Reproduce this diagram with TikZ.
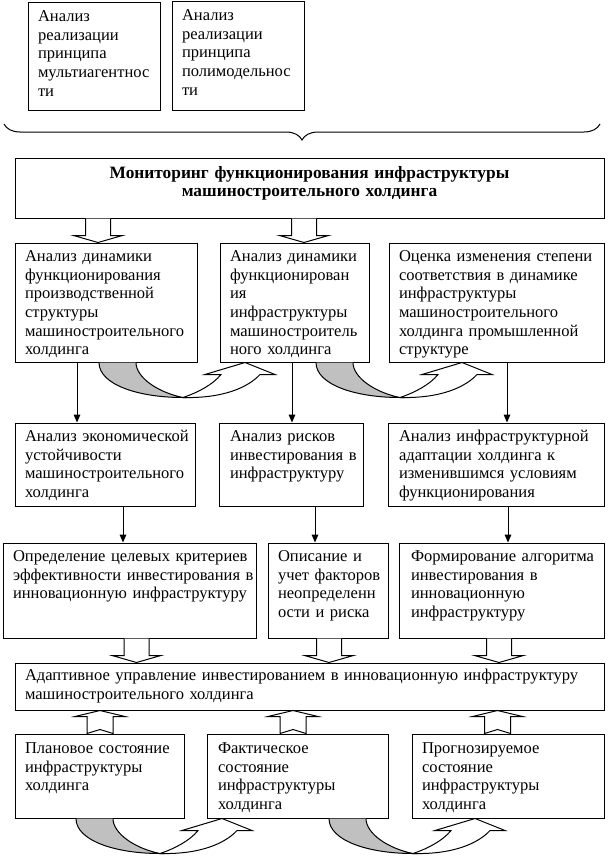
\documentclass[tikz,border=0pt]{standalone}
\usepackage{fontspec}
\setmainfont{Liberation Serif}
\definecolor{shadegray}{RGB}{192,192,192}
\usetikzlibrary{positioning,calc,fit,arrows.meta,decorations.pathreplacing}
\newdimen\upx \upx=0.75pt
\newcommand{\fs}{\fontsize{12.4}{14}\selectfont}
\newcommand{\fsb}{\fontsize{13}{13.6}\selectfont\bfseries}
\tikzset{
  blk/.style={draw, inner sep=0pt},
  txt/.style={anchor=base west, align=left, inner sep=0pt, font=\fs, text width=#1},
  hol/.style={draw, fill=white},
  arr/.style={-{Triangle[width=5pt,length=6pt]}},
}
\newcommand{\blockdown}[3]{%
  \draw[hol] ($(#2 -| #1,0)+(-12.5,0)$) -- ($(#3 -| #1,0)+(-12.5,-7)$)
    -- ($(#3 -| #1,0)+(-24.5,-7)$) -- (#3 -| #1,0)
    -- ($(#3 -| #1,0)+(24.5,-7)$) -- ($(#3 -| #1,0)+(12.5,-7)$)
    -- ($(#2 -| #1,0)+(12.5,0)$);}
\newcommand{\blockup}[3]{%
  \draw[hol] ($(#2 -| #1,0)+(-13,0)$) -- ($(#3 -| #1,0)+(-13,6)$)
    -- ($(#3 -| #1,0)+(-25,6)$) -- (#3 -| #1,0)
    -- ($(#3 -| #1,0)+(25,6)$) -- ($(#3 -| #1,0)+(13,6)$)
    -- ($(#2 -| #1,0)+(13,0)$) -- ($(#2 -| #1,0)+(0,-4)$) -- cycle;}
\newcommand{\turnarrow}[1]{%
  \begin{scope}[shift={(#1)}]
    \fill[shadegray] (-84,0) .. controls (-84,22) and (-45,35) .. (0,35)
      .. controls (-25,30) and (-47,15) .. (-47,0) -- cycle;
    \draw (-84,0) .. controls (-84,22) and (-45,35) .. (0,35)
      .. controls (-25,30) and (-47,15) .. (-47,0);
    \draw[hol] (0,35) .. controls (15,30) and (30,22) .. (38,12) -- (22,12) -- (62,0)
      -- (92,12) -- (77,12) .. controls (65,25) and (40,36) .. (0,35) -- cycle;
  \end{scope}}

\begin{document}
\begin{tikzpicture}[x=0.75pt, y=-0.75pt, line width=0.75pt]
\useasboundingbox (0,0) rectangle (615,867);

\node[blk, fit={(28,3) (160,110)}] (multi) {};
\node[txt=130\upx] (multi-t) at ([shift={(10,19)}]multi.north west) {Анализ\\реализации\\принципа\\мультиагентнос\\ти};
\node[blk, fit={(172,2) (304,110)}] (poly) {};
\node[txt=130\upx] (poly-t) at ([shift={(10,19)}]poly.north west) {Анализ\\реализации\\принципа\\полимодельнос\\ти};

\coordinate (brl) at (4,124);
\coordinate (brr) at (600,124);
\draw[decorate, decoration={brace, mirror, amplitude=12pt}] (brl) -- (brr);

\node[blk, fit={(15,158) (604,218)}] (monit) {};
\node[txt=580\upx, anchor=base, align=center, font=\fsb] (monit-t) at ([shift={(0,21)}]monit.north) {Мониторинг функционирования инфраструктуры\\машиностроительного холдинга};

\node[blk, fit={(15,243) (197,362)}] (prod) {};
\node[txt=180\upx] (prod-t) at ([shift={(10,19)}]prod.north west) {Анализ динамики\\функционирования\\производственной\\структуры\\машиностроительного\\холдинга};
\node[blk, fit={(220,243) (369,362)}] (infra) {};
\node[txt=147\upx] (infra-t) at ([shift={(10,19)}]infra.north west) {Анализ динамики\\функционирован\\ия\\инфраструктуры\\машиностроитель\\ного холдинга};
\node[blk, fit={(389,243) (604,362)}] (match) {};
\node[txt=213\upx] (match-t) at ([shift={(10,19)}]match.north west) {Оценка изменения степени\\соответствия в динамике\\инфраструктуры\\машиностроительного\\холдинга промышленной\\структуре};

\node[blk, fit={(15,423) (195,506)}] (econ) {};
\node[txt=178\upx] (econ-t) at ([shift={(10,19)}]econ.north west) {Анализ экономической\\устойчивости\\машиностроительного\\холдинга};
\node[blk, fit={(219,423) (363,506)}] (risk) {};
\node[txt=142\upx] (risk-t) at ([shift={(11,19)}]risk.north west) {Анализ рисков\\инвестирования в\\инфраструктуру};
\node[blk, fit={(388,423) (604,506)}] (adapt) {};
\node[txt=214\upx] (adapt-t) at ([shift={(11,19)}]adapt.north west) {Анализ инфраструктурной\\адаптации холдинга к\\изменившимся условиям\\функционирования};

\node[blk, fit={(3,543) (256,638)}] (crit) {};
\node[txt=251\upx] (crit-t) at ([shift={(10,19)}]crit.north west) {Определение целевых критериев\\эффективности инвестирования в\\инновационную инфраструктуру};
\node[blk, fit={(268,543) (388,638)}] (uncert) {};
\node[txt=118\upx] (uncert-t) at ([shift={(10,19)}]uncert.north west) {Описание и\\учет факторов\\неопределенн\\ости и риска};
\node[blk, fit={(399,543) (604,638)}] (algo) {};
\node[txt=203\upx] (algo-t) at ([shift={(12,19)}]algo.north west) {Формирование алгоритма\\инвестирования в\\инновационную\\инфраструктуру};

\node[blk, fit={(15,663) (604,710)}] (manage) {};
\node[txt=587\upx] (manage-t) at ([shift={(10,18)}]manage.north west) {Адаптивное управление инвестированием в инновационную инфраструктуру\\машиностроительного холдинга};

\node[blk, fit={(15,734) (184,818)}] (plan) {};
\node[txt=167\upx] (plan-t) at ([shift={(10,20)}]plan.north west) {Плановое состояние\\инфраструктуры\\холдинга};
\node[blk, fit={(207,734) (388,818)}] (fact) {};
\node[txt=179\upx] (fact-t) at ([shift={(11,20)}]fact.north west) {Фактическое\\состояние\\инфраструктуры\\холдинга};
\node[blk, fit={(412,734) (604,818)}] (fcast) {};
\node[txt=190\upx] (fcast-t) at ([shift={(10,20)}]fcast.north west) {Прогнозируемое\\состояние\\инфраструктуры\\холдинга};

\blockdown{98}{monit.south}{prod.north}
\blockdown{304}{monit.south}{infra.north}

\draw[arr] (prod.south -| 77,0) -- (econ.north -| 77,0);
\draw[arr] (infra.south -| 292,0) -- (risk.north -| 292,0);
\draw[arr] (match.south -| 507,0) -- (adapt.north -| 507,0);
\draw[arr] (econ.south -| 123,0) -- (crit.north -| 123,0);
\draw[arr] (risk.south -| 315,0) -- (uncert.north -| 315,0);
\draw[arr] (adapt.south -| 508,0) -- (algo.north -| 508,0);

\turnarrow{prod.south -| 183,0}
\turnarrow{infra.south -| 400,0}

\blockdown{136.5}{crit.south}{manage.north}
\blockdown{329}{uncert.south}{manage.north}
\blockdown{499}{algo.south}{manage.north}

\blockup{100}{plan.north}{manage.south}
\blockup{293}{fact.north}{manage.south}
\blockup{497.5}{fcast.north}{manage.south}

\turnarrow{plan.south -| 160,0}
\turnarrow{fact.south -| 413,0}
\end{tikzpicture}
\end{document}
